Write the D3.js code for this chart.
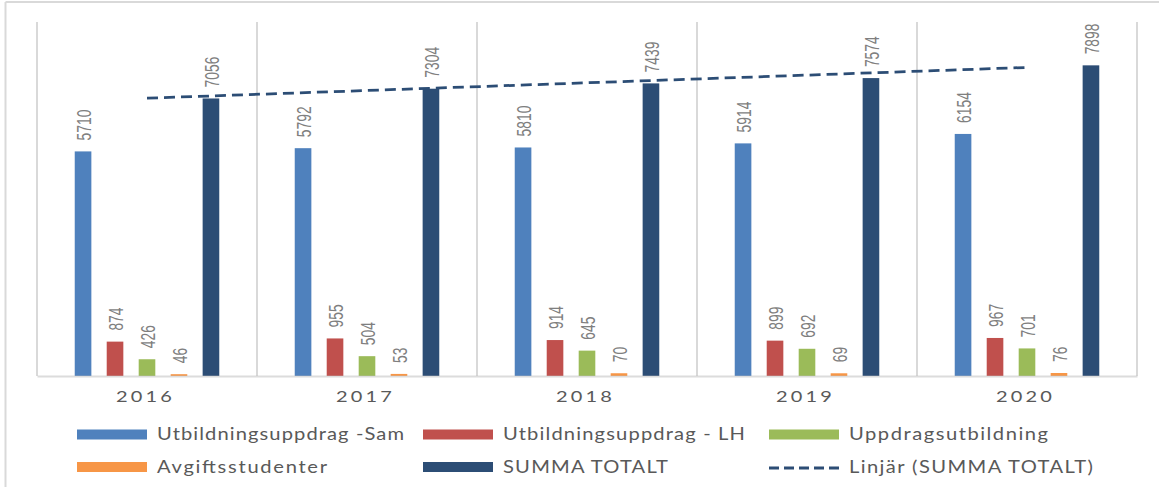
<!DOCTYPE html>
<html>
<head>
<meta charset="utf-8">
<script src="https://cdn.jsdelivr.net/npm/d3@7"></script>
<style>
  html, body { margin: 0; padding: 0; background: #ffffff; }
  svg { display: block; }
</style>
</head>
<body>
<div id="chart"></div>
<script>
// ---------------- DATA ----------------
const years = ["2016", "2017", "2018", "2019", "2020"];
const seriesNames = [
  "Utbildningsuppdrag -Sam",
  "Utbildningsuppdrag - LH",
  "Uppdragsutbildning",
  "Avgiftsstudenter",
  "SUMMA TOTALT"
];
const utbSam   = [5710, 5792, 5810, 5914, 6154];
const utbLH    = [874, 955, 914, 899, 967];
const uppdrag  = [426, 504, 645, 692, 701];
const avgift   = [46, 53, 70, 69, 76];
const summa    = [7056, 7304, 7439, 7574, 7898];
const trendName = "Linjär (SUMMA TOTALT)";
const yMax = 9000;

// ---------------- LAYOUT / STYLE ----------------
const W = 1159, H = 487;
const plot = { left: 37, right: 1137, top: 22, bottom: 376 };
const colors = ["#4F81BD", "#C0504D", "#9BBB59", "#F79646", "#2C4D75"];
const trendColor = "#2C4D75";
const gridColor = "#d9d9d9";
const legendCols = [77, 423, 769];
const legendRows = [440, 472.5];
const legendTextWidths = [247, 242, 199, 170, 165, 244];
const hStretchYear = 1.25, hStretchLegend = 1.12;

const seriesValues = [utbSam, utbLH, uppdrag, avgift, summa];
const rows = years.map((yr, i) => ({
  year: yr,
  values: seriesNames.map((s, k) => ({ key: s, k: k, value: seriesValues[k][i] }))
}));

const svg = d3.select("#chart").append("svg")
  .attr("width", W).attr("height", H);

// outer frame (top + left edges)
svg.append("line").attr("x1", 5.5).attr("x2", W).attr("y1", 2).attr("y2", 2)
  .attr("stroke", gridColor).attr("stroke-width", 2);
svg.append("line").attr("x1", 5.5).attr("x2", 5.5).attr("y1", 2).attr("y2", H)
  .attr("stroke", gridColor).attr("stroke-width", 2);

// scales
const x0 = d3.scaleBand().domain(years).range([plot.left, plot.right]).padding(0);
const x1 = d3.scaleBand().domain(seriesNames).range([0, x0.bandwidth()])
  .paddingInner(0.48).paddingOuter(1.18);
const y = d3.scaleLinear().domain([0, yMax]).range([plot.bottom, plot.top]);

// category separators
const seps = years.map(d => x0(d)).concat([x0.range()[1]]);
svg.append("g").selectAll("line").data(seps).join("line")
  .attr("x1", d => d).attr("x2", d => d)
  .attr("y1", y(yMax)).attr("y2", y(0))
  .attr("stroke", gridColor).attr("stroke-width", 2);

// bars
const groups = svg.append("g").selectAll("g").data(rows).join("g")
  .attr("transform", d => `translate(${x0(d.year)},0)`);

groups.selectAll("rect").data(d => d.values).join("rect")
  .attr("x", d => x1(d.key))
  .attr("width", x1.bandwidth())
  .attr("y", d => y(d.value))
  .attr("height", d => y(0) - y(d.value))
  .attr("fill", d => colors[d.k]);

// value labels (rotated, condensed)
groups.selectAll("text").data(d => d.values).join("text")
  .attr("transform", d =>
    `translate(${x1(d.key) + x1.bandwidth() / 2},${y(d.value) - 11}) rotate(-90) scale(0.66,1)`)
  .attr("dy", "0.36em")
  .attr("text-anchor", "start")
  .attr("font-family", "'Liberation Sans', Arial, sans-serif")
  .attr("font-size", 21)
  .attr("fill", "#7f7f7f")
  .text(d => d.value);

// x axis
const xAxis = d3.axisBottom(x0).tickSizeInner(0).tickSizeOuter(0).tickPadding(15);
const ax = svg.append("g").attr("transform", `translate(0,${y(0)})`).call(xAxis);
ax.select(".domain").attr("stroke", "#bfbfbf").attr("stroke-opacity", 0.55).attr("stroke-width", 2);
ax.selectAll(".tick text")
  .attr("transform", `scale(${hStretchYear},1)`)
  .attr("x", -3 / hStretchYear)
  .attr("font-family", "Lato, 'Open Sans', sans-serif")
  .attr("font-size", 16)
  .attr("fill", "#595959")
  .attr("textLength", 56 / hStretchYear)
  .attr("lengthAdjust", "spacing");

// linear trendline (least squares on SUMMA TOTALT)
const n = summa.length;
const xs = d3.range(1, n + 1);
const mx = d3.mean(xs), my = d3.mean(summa);
const slope = d3.sum(xs, (xv, i) => (xv - mx) * (summa[i] - my)) / d3.sum(xs, xv => (xv - mx) ** 2);
const intercept = my - slope * mx;
const trendPts = years.map((yr, i) => ({ year: yr, v: intercept + slope * xs[i] }));
const trendLine = d3.line()
  .x(d => x0(d.year) + x0.bandwidth() / 2)
  .y(d => y(d.v));
svg.append("path")
  .datum([trendPts[0], trendPts[n - 1]])
  .attr("d", trendLine)
  .attr("fill", "none")
  .attr("stroke", trendColor)
  .attr("stroke-width", 2.75)
  .attr("stroke-dasharray", "11,6");

// legend
const legendItems = seriesNames.map((s, k) => ({ name: s, color: colors[k], type: "rect" }));
legendItems.push({ name: trendName, color: trendColor, type: "line" });
const lg = svg.append("g").selectAll("g").data(legendItems).join("g")
  .attr("transform", (d, i) => `translate(${legendCols[i % 3]},${legendRows[Math.floor(i / 3)]})`);
lg.filter(d => d.type === "rect").append("rect")
  .attr("x", 0).attr("y", -10.5).attr("width", 70).attr("height", 10)
  .attr("fill", d => d.color);
lg.filter(d => d.type === "line").append("line")
  .attr("x1", 0).attr("x2", 73).attr("y1", -4.5).attr("y2", -4.5)
  .attr("stroke", d => d.color).attr("stroke-width", 3)
  .attr("stroke-dasharray", "10,5");
lg.append("text")
  .attr("transform", `scale(${hStretchLegend},1)`)
  .attr("x", 80 / hStretchLegend).attr("y", 0)
  .attr("font-family", "Lato, 'Open Sans', sans-serif")
  .attr("font-size", 18)
  .attr("fill", "#595959")
  .attr("textLength", (d, i) => legendTextWidths[i] / hStretchLegend)
  .attr("lengthAdjust", "spacing")
  .text(d => d.name);
</script>
</body>
</html>
